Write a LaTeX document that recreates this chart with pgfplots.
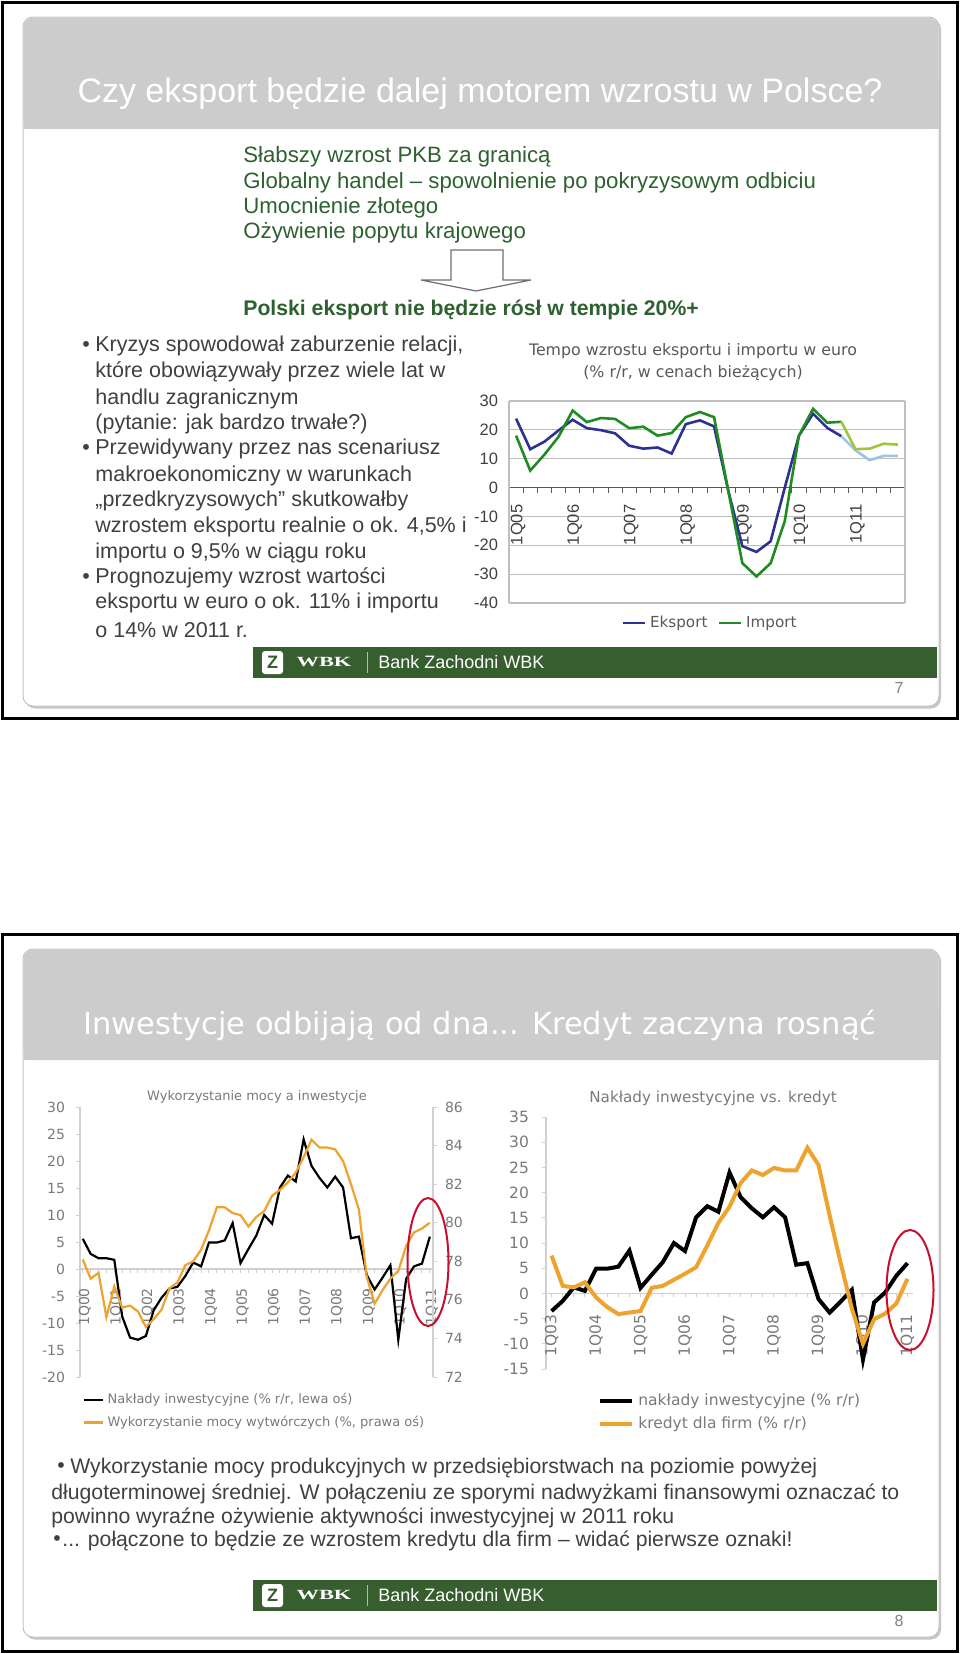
\documentclass[border=0pt]{standalone}
\usepackage{pgfplots}
\pgfplotsset{compat=1.18}
\usepackage{fontspec}
\usepackage{graphicx}
\setmainfont{Liberation Sans}
\newfontfamily\dv{DejaVu Sans}
\newfontfamily\lser{Liberation Serif}

\definecolor{hdr}{HTML}{CCCCCC}
\definecolor{cardb}{HTML}{C4C4C4}
\definecolor{gtext}{HTML}{2E6130}
\definecolor{btext}{HTML}{404040}
\definecolor{foot}{HTML}{365E2F}
\definecolor{pgray}{HTML}{808080}
\definecolor{eks}{HTML}{2E3192}
\definecolor{imp}{HTML}{1E8C23}
\definecolor{eksf}{HTML}{9DC3E6}
\definecolor{impf}{HTML}{A2C43C}
\definecolor{grid1}{HTML}{BFBFBF}
\definecolor{axdark}{HTML}{595959}
\definecolor{tickc}{HTML}{404040}
\definecolor{org}{HTML}{EDA32E}
\definecolor{axl}{HTML}{D0D0D0}
\definecolor{tgray}{HTML}{7A7A7A}
\definecolor{redc}{HTML}{C8102E}
\definecolor{arrowc}{HTML}{707070}

\newcommand\fs[1]{\fontsize{#1}{#1}\selectfont}

\begin{document}
\begin{tikzpicture}[x=0.5pt,y=0.5pt]
\useasboundingbox (0,0) rectangle (960,-1654);
\fill[white] (0,0) rectangle (960,-1654);

%================ SLIDE 1 =================
\draw[black, line width=1.5pt] (2.5,-2.5) rectangle (957.5,-718.5);
\fill[black!22, rounded corners=5pt] (25,-19) rectangle (941,-708.5);
\filldraw[fill=white, draw=cardb, line width=0.5pt, rounded corners=5pt] (23,-17) rectangle (939,-706);
\fill[hdr, rounded corners=5pt] (23.5,-17.5) rectangle (938.5,-129);
\fill[hdr] (23.5,-80) rectangle (938.5,-129);
\node[white, font=\fs{17pt}] at (480,-94) {Czy eksport będzie dalej motorem wzrostu w Polsce?};

\begin{scope}[every node/.style={anchor=west, inner sep=0pt, text=gtext, font=\fs{11.1pt}}]
\node at (243,-157) {Słabszy wzrost PKB za granicą};
\node at (243,-183) {Globalny handel – spowolnienie po pokryzysowym odbiciu};
\node at (243,-208) {Umocnienie złotego};
\node at (243,-233) {Ożywienie popytu krajowego};
\node[font=\bfseries\fs{10.6pt}] at (243,-310) {Polski eksport nie będzie rósł w tempie 20\%+};
\end{scope}
\draw[arrowc, line width=0.6pt, fill=white] (451,-250) -- (503,-250) -- (503,-280) -- (531,-280) -- (476,-291) -- (421,-280) -- (451,-280) -- cycle;

\begin{scope}[every node/.style={anchor=west, inner sep=0pt, text=btext, font=\fs{10.75pt}}]
\node at (82,-346) {•};
\node at (95,-346) {Kryzys spowodował zaburzenie relacji,};
\node at (95,-372) {które obowiązywały przez wiele lat w};
\node at (95,-399) {handlu zagranicznym};
\node at (95,-424) {(pytanie: jak bardzo trwałe?)};
\node at (82,-449) {•};
\node at (95,-449) {Przewidywany przez nas scenariusz};
\node at (95,-476) {makroekonomiczny w warunkach};
\node at (95,-501) {„przedkryzysowych” skutkowałby};
\node at (95,-527) {wzrostem eksportu realnie o ok. 4,5\% i};
\node at (95,-553) {importu o 9,5\% w ciągu roku};
\node at (82,-578) {•};
\node at (95,-578) {Prognozujemy wzrost wartości};
\node at (95,-603) {eksportu w euro o ok. 11\% i importu};
\node at (95,-630) {o 14\% w 2011 r.};
\end{scope}

% chart title
\node[text=axdark, font=\dv\fs{7.9pt}] at (693,-351) {Tempo wzrostu eksportu i importu w euro};
\node[text=axdark, font=\dv\fs{7.9pt}] at (693,-373) {(\% r/r, w cenach bieżących)};

\begin{axis}[
  at={(254.5pt,-301.5pt)}, anchor=south west, scale only axis,
  width=198pt, height=101pt,
  xmin=-0.5, xmax=27.5, ymin=-40, ymax=30,
  axis x line=middle, axis y line=left,
  axis line style={-},
  x axis line style={draw=axdark, line width=0.6pt},
  y axis line style={draw=grid1, line width=0.6pt},
  hide obscured x ticks=false, hide obscured y ticks=false,
  ytick={-40,-30,-20,-10,0,10,20,30},
  yticklabels={-40,-30,-20,-10,0,10,20,30},
  ymajorgrids, grid style={draw=grid1, line width=0.6pt},
  xtick={0,4,8,12,16,20,24},
  xticklabels={1Q05,1Q06,1Q07,1Q08,1Q09,1Q10,1Q11},
  minor xtick={0.5,1.5,...,26.5},
  extra x ticks={27.5}, extra x tick labels={},
  extra x tick style={grid=major, major tick length=0pt},
  tick align=outside,
  major tick length=0pt, minor tick length=2.5pt,
  minor tick style={draw=axdark, line width=0.5pt},
  yticklabel style={font=\fs{8.25pt}, text=tickc, xshift=-2pt},
  xticklabel style={font=\fs{8.25pt}, text=tickc, yshift=-5pt, xshift=1pt, rotate=90, anchor=east},
  clip=false,
  legend columns=2,
  legend style={at={(0.51,-0.099)}, anchor=center, draw=none, fill=none,
    font=\dv\fs{7.6pt}, text=axdark, /tikz/every even column/.append style={column sep=3pt}},
  legend image code/.code={\draw[#1] (0pt,0pt) -- (11pt,0pt);},
]
\addplot[eks, line width=1.3pt] coordinates {(0,23.9)(1,13.3)(2,15.9)(3,19.8)(4,23.5)(5,20.6)(6,19.9)(7,18.8)(8,14.5)(9,13.5)(10,13.9)(11,11.8)(12,22.0)(13,23.3)(14,21.2)(15,-1.0)(16,-20.3)(17,-22.3)(18,-18.6)(19,0.0)(20,18.0)(21,25.6)(22,20.7)(23,17.8)};
\addlegendentry{Eksport}
\addplot[imp, line width=1.3pt] coordinates {(0,18.0)(1,5.9)(2,11.4)(3,17.6)(4,26.7)(5,22.7)(6,24.1)(7,23.8)(8,20.6)(9,21.1)(10,18.0)(11,18.9)(12,24.4)(13,26.2)(14,24.4)(15,-1.0)(16,-26.2)(17,-30.8)(18,-26.2)(19,-11.6)(20,18.0)(21,27.3)(22,22.5)(23,22.8)};
\addlegendentry{Import}
\addplot[eksf, line width=1.3pt, forget plot] coordinates {(23,17.8)(24,12.9)(25,9.5)(26,11.0)(27,11.0)};
\addplot[impf, line width=1.3pt, forget plot] coordinates {(23,22.8)(24,13.3)(25,13.5)(26,15.2)(27,14.9)};
\end{axis}

% footer 1
\fill[foot] (253,-647) rectangle (937,-678);
\fill[white, rounded corners=1.5pt] (262,-651) rectangle (283,-674);
\node[text=foot, font=\bfseries\fs{9pt}] at (272.5,-662.5) {Z};
\node[white, font=\lser\bfseries\fs{7pt}] at (324,-662.5) {\scalebox{1.6}[1]{WBK}};
\draw[white!60!foot, line width=0.5pt] (367,-652) -- (367,-673);
\node[anchor=west, inner sep=0pt, white, font=\fs{9pt}] at (378,-662.5) {Bank Zachodni WBK};
\node[text=pgray, font=\fs{8pt}] at (899,-688) {7};

%================ SLIDE 2 =================
\draw[black, line width=1.5pt] (2.5,-934) rectangle (957.5,-1651);
\fill[black!22, rounded corners=5pt] (25,-951) rectangle (941,-1639.5);
\filldraw[fill=white, draw=cardb, line width=0.5pt, rounded corners=5pt] (23,-949) rectangle (939,-1637);
\fill[hdr, rounded corners=5pt] (23.5,-949.5) rectangle (938.5,-1060);
\fill[hdr] (23.5,-1010) rectangle (938.5,-1060);
\node[white, font=\dv\fs{15.25pt}] at (480,-1025) {Inwestycje odbijają od dna... Kredyt zaczyna rosnąć};

% chart titles
\node[text=tgray, font=\dv\fs{6.5pt}] at (257,-1097) {Wykorzystanie mocy a inwestycje};
\node[text=tgray, font=\dv\fs{7.6pt}] at (713,-1098) {Nakłady inwestycyjne vs. kredyt};

% bottom-left chart, left axis
\begin{axis}[
  at={(40pt,-688.5pt)}, anchor=south west, scale only axis,
  width=176.5pt, height=135pt,
  xmin=-0.35, xmax=44.4, ymin=-20, ymax=30,
  axis x line=middle, axis y line=left,
  axis line style={-, draw=axl, line width=0.6pt},
  hide obscured x ticks=false, hide obscured y ticks=false,
  ytick={-20,-15,-10,-5,0,5,10,15,20,25,30},
  yticklabels={-20,-15,-10,-5,0,5,10,15,20,25,30},
  xtick={0,4,...,44},
  xticklabels={1Q00,1Q01,1Q02,1Q03,1Q04,1Q05,1Q06,1Q07,1Q08,1Q09,1Q10,1Q11},
  minor x tick num=3,
  tick align=outside, major tick length=2pt, minor tick length=2pt,
  every tick/.style={draw=axl, line width=0.5pt},
  yticklabel style={font=\dv\fs{7pt}, text=tgray, xshift=-2pt},
  xticklabel style={font=\dv\fs{7pt}, text=tgray, yshift=-4pt, xshift=1pt, rotate=90, anchor=east},
  clip=false,
]
\addplot[black, line width=1.1pt] coordinates {(0,5.6)(1,2.8)(2,2.0)(3,2.0)(4,1.7)(5,-8.8)(6,-12.7)(7,-13.1)(8,-12.4)(9,-7.6)(10,-5.3)(11,-3.6)(12,-3.3)(13,-1.3)(14,1.2)(15,0.5)(16,4.9)(17,4.9)(18,5.3)(19,8.5)(20,1.1)(21,3.7)(22,6.2)(23,10.0)(24,8.4)(25,15.1)(26,17.3)(27,16.2)(28,24.0)(29,19.1)(30,16.9)(31,15.1)(32,17.1)(33,15.1)(34,5.7)(35,6.0)(36,-1.1)(37,-3.8)(38,-1.6)(39,0.7)(40,-13.1)(41,-1.8)(42,0.5)(43,1.0)(44,6.0)};
\end{axis}

% bottom-left chart, right axis
\begin{axis}[
  at={(40pt,-688.5pt)}, anchor=south west, scale only axis,
  width=176.5pt, height=135pt,
  xmin=-0.35, xmax=44.4, ymin=72, ymax=86,
  hide x axis, axis y line*=right,
  axis line style={-, draw=axl, line width=0.6pt},
  ytick={72,74,76,78,80,82,84,86},
  yticklabels={72,74,76,78,80,82,84,86},
  tick align=outside, major tick length=2pt,
  every tick/.style={draw=axl, line width=0.5pt},
  yticklabel style={font=\dv\fs{7pt}, text=tgray, xshift=0.5pt},
  clip=false,
  legend style={at={(0,-0.037)}, anchor=north west, draw=none, fill=none,
    font=\dv\fs{6.5pt}, text=tgray, row sep=0.5pt, inner sep=1pt},
  legend cell align=left,
  legend image code/.code={\draw[#1] (0pt,0pt) -- (9.5pt,0pt);},
]
\addlegendimage{black, line width=1.1pt}
\addlegendentry{Nakłady inwestycyjne (\% r/r, lewa oś)}
\addplot[org, line width=1.1pt] coordinates {(0,78.1)(1,77.1)(2,77.4)(3,75.1)(4,76.7)(5,75.6)(6,75.7)(7,75.4)(8,74.6)(9,75.0)(10,75.5)(11,76.6)(12,76.9)(13,77.8)(14,78.0)(15,78.6)(16,79.6)(17,80.8)(18,80.8)(19,80.5)(20,80.4)(21,79.8)(22,80.3)(23,80.6)(24,81.4)(25,81.7)(26,82.1)(27,82.6)(28,83.4)(29,84.3)(30,83.9)(31,83.9)(32,83.8)(33,83.2)(34,82.0)(35,80.7)(36,77.2)(37,75.8)(38,76.5)(39,77.1)(40,77.5)(41,78.8)(42,79.5)(43,79.7)(44,80.0)};
\addlegendentry{Wykorzystanie mocy wytwórczych (\%, prawa oś)}
\end{axis}

% bottom-right chart
\begin{axis}[
  at={(273pt,-684.5pt)}, anchor=south west, scale only axis,
  width=183.5pt, height=126pt,
  xmin=-0.5, xmax=32.5, ymin=-15, ymax=35,
  axis x line=middle, axis y line=left,
  axis line style={-, draw=axl, line width=0.6pt},
  hide obscured x ticks=false, hide obscured y ticks=false,
  ytick={-15,-10,-5,0,5,10,15,20,25,30,35},
  yticklabels={-15,-10,-5,0,5,10,15,20,25,30,35},
  xtick={0,4,...,32},
  xticklabels={1Q03,1Q04,1Q05,1Q06,1Q07,1Q08,1Q09,1Q10,1Q11},
  minor x tick num=3,
  tick align=outside, major tick length=2pt, minor tick length=2pt,
  every tick/.style={draw=axl, line width=0.5pt},
  yticklabel style={font=\dv\fs{7.75pt}, text=tgray, xshift=-3pt},
  xticklabel style={font=\dv\fs{7.75pt}, text=tgray, yshift=-5pt, rotate=90, anchor=east},
  clip=false,
  legend style={at={(0.136,-0.071)}, anchor=north west, draw=none, fill=none,
    font=\dv\fs{7.75pt}, text=tgray, row sep=0.5pt, inner sep=1pt},
  legend cell align=left,
  legend image code/.code={\draw[#1] (0pt,0pt) -- (16pt,0pt);},
]
\addplot[black, line width=2pt] coordinates {(0,-3.5)(1,-1.5)(2,1.2)(3,0.5)(4,4.9)(5,4.9)(6,5.3)(7,8.5)(8,1.1)(9,3.7)(10,6.2)(11,10.0)(12,8.4)(13,15.1)(14,17.3)(15,16.2)(16,24.0)(17,19.1)(18,16.9)(19,15.1)(20,17.1)(21,15.1)(22,5.7)(23,6.0)(24,-1.1)(25,-3.8)(26,-1.6)(27,0.7)(28,-13.1)(29,-1.8)(30,0.2)(31,3.5)(32,6.0)};
\addlegendentry{nakłady inwestycyjne (\% r/r)}
\addplot[org, line width=2pt] coordinates {(0,7.5)(1,1.5)(2,1.2)(3,2.2)(4,-0.8)(5,-2.7)(6,-4.1)(7,-3.8)(8,-3.5)(9,1.1)(10,1.5)(11,2.7)(12,3.9)(13,5.2)(14,9.5)(15,14.0)(16,17.2)(17,21.9)(18,24.4)(19,23.5)(20,24.9)(21,24.4)(22,24.4)(23,28.9)(24,25.5)(25,15.5)(26,6.0)(27,-3.0)(28,-10.0)(29,-5.1)(30,-4.0)(31,-2.0)(32,2.9)};
\addlegendentry{kredyt dla firm (\% r/r)}
\end{axis}

\draw[redc, line width=1pt] (428,-1262) ellipse [x radius=10.25pt, y radius=32pt];
\draw[redc, line width=1pt] (910,-1290) ellipse [x radius=11.75pt, y radius=30pt];

% slide 2 text
\begin{scope}[every node/.style={anchor=west, inner sep=0pt, text=btext, font=\fs{10.6pt}}]
\node at (57,-1468) {•};
\node at (70,-1468) {Wykorzystanie mocy produkcyjnych w przedsiębiorstwach na poziomie powyżej};
\node at (51,-1494) {długoterminowej średniej. W połączeniu ze sporymi nadwyżkami finansowymi oznaczać to};
\node at (51,-1518) {powinno wyraźne ożywienie aktywności inwestycyjnej w 2011 roku};
\node at (53,-1541) {•};
\node at (62,-1541) {... połączone to będzie ze wzrostem kredytu dla firm – widać pierwsze oznaki!};
\end{scope}

% footer 2
\fill[foot] (253,-1580) rectangle (937,-1611);
\fill[white, rounded corners=1.5pt] (262,-1584) rectangle (283,-1607);
\node[text=foot, font=\bfseries\fs{9pt}] at (272.5,-1595.5) {Z};
\node[white, font=\lser\bfseries\fs{7pt}] at (324,-1595.5) {\scalebox{1.6}[1]{WBK}};
\draw[white!60!foot, line width=0.5pt] (367,-1585) -- (367,-1606);
\node[anchor=west, inner sep=0pt, white, font=\fs{9pt}] at (378,-1595.5) {Bank Zachodni WBK};
\node[text=pgray, font=\fs{8pt}] at (899,-1621) {8};
\end{tikzpicture}
\end{document}
